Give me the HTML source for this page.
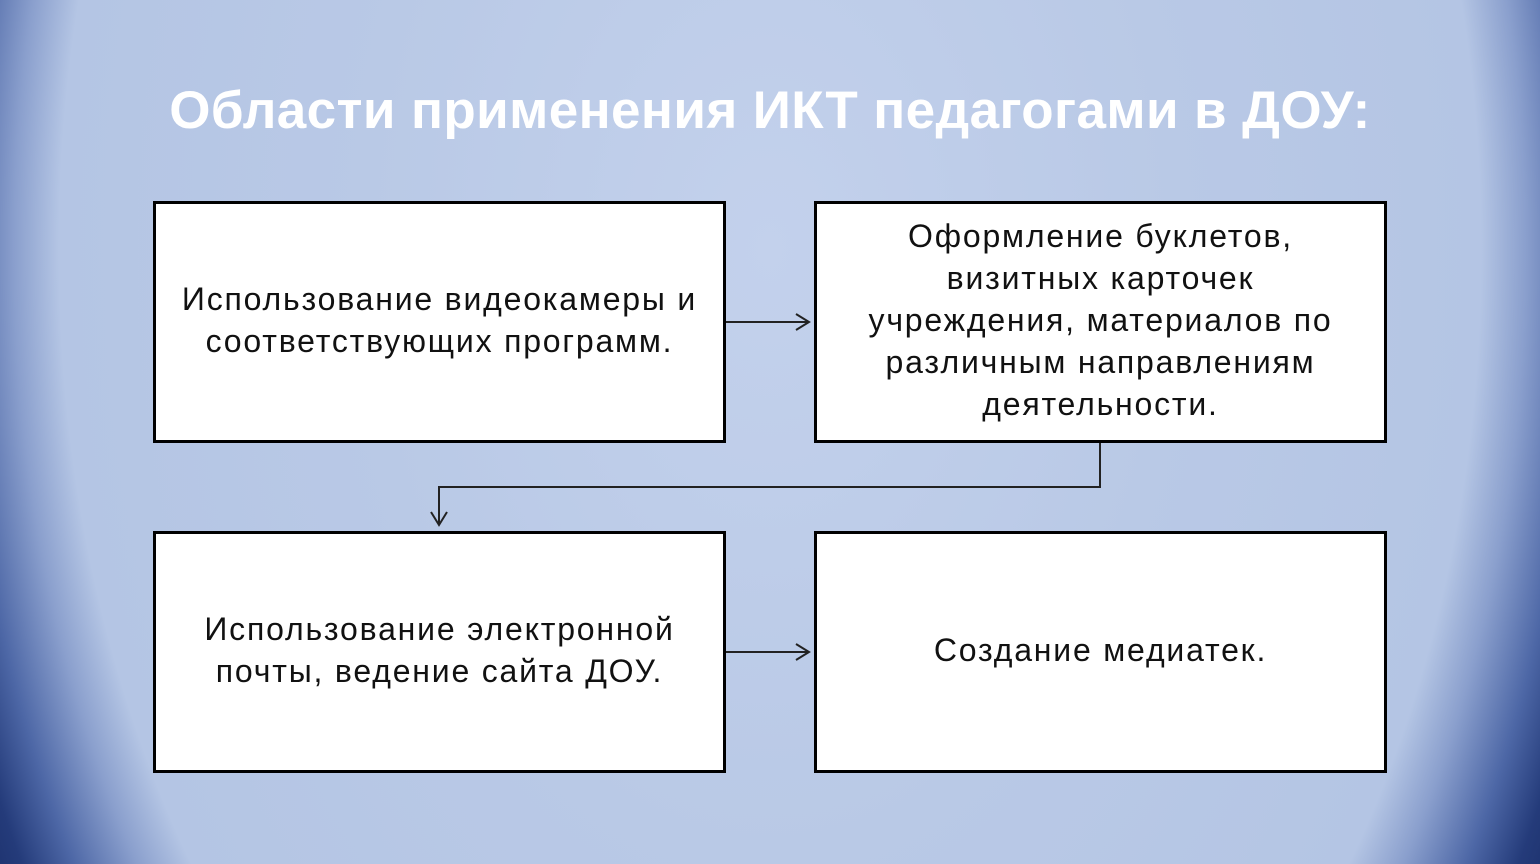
<!DOCTYPE html>
<html><head><meta charset="utf-8"><style>
html,body{margin:0;padding:0;}
body{width:1540px;height:864px;overflow:hidden;position:relative;
background:radial-gradient(ellipse 900px 1337px at 770px 250px, #c3d1ec 0%, #b9c9e6 45%, #b4c5e4 79%, #8a9fcd 84%, #4d67a6 90%, #243b7a 95%, #1a2d68 100%);
font-family:"Liberation Sans","DejaVu Sans",sans-serif;}
.t{position:absolute;left:0;width:1540px;top:80px;text-align:center;color:#fff;font-weight:bold;font-size:53px;letter-spacing:0.4px;}
.b{position:absolute;box-sizing:border-box;border:3px solid #000;background:#fff;display:flex;align-items:center;justify-content:center;text-align:center;font-size:32px;line-height:42px;color:#111;letter-spacing:1.8px;}
svg{position:absolute;left:0;top:0;}
</style></head><body>
<div class="t">Области применения ИКТ педагогами в ДОУ:</div>
<div class="b" style="left:153px;top:201px;width:573px;height:242px;padding-bottom:4px">Использование видеокамеры и<br>соответствующих программ.</div>
<div class="b" style="left:814px;top:201px;width:573px;height:242px;padding-bottom:4px">Оформление буклетов,<br>визитных карточек<br>учреждения, материалов по<br>различным направлениям<br>деятельности.</div>
<div class="b" style="left:153px;top:531px;width:573px;height:242px;padding-bottom:4px">Использование электронной<br>почты, ведение сайта ДОУ.</div>
<div class="b" style="left:814px;top:531px;width:573px;height:242px;padding-bottom:4px">Создание медиатек.</div>
<svg width="1540" height="864">
<g stroke="#222" stroke-width="2" fill="none">
<line x1="726" y1="322" x2="809" y2="322"/><polyline points="796,314 809,322 796,330"/>
<line x1="726" y1="652" x2="809" y2="652"/><polyline points="796,644 809,652 796,660"/>
<polyline points="1100,443 1100,487 439,487 439,525"/><polyline points="431,512 439,525 447,512"/>
</g></svg>
</body></html>
